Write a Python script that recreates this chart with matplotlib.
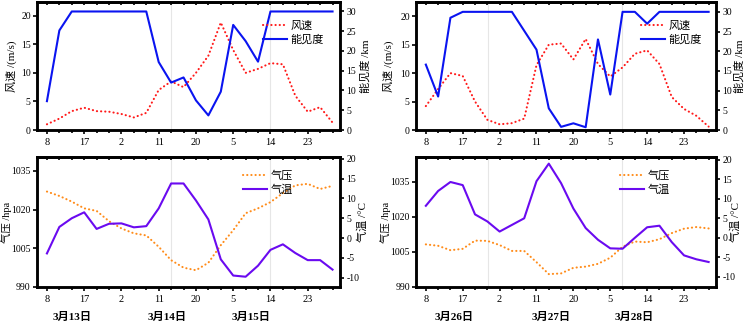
import numpy as np
import matplotlib.pyplot as plt

plt.rcParams['font.family'] = ['Liberation Serif', 'Noto Sans CJK SC']
plt.rcParams['axes.unicode_minus'] = False

# %% data (3-hourly, 8 h on day 1 to 5 h on day 4)
hours = np.arange(24)
tick_idx = [0, 3, 6, 9, 12, 15, 18, 21]
tick_labels = ['8', '17', '2', '11', '20', '5', '14', '23']

# case A: 13-15 March
wind_a = [1.0, 2.0, 3.3, 3.9, 3.3, 3.2, 2.8, 2.2, 3.0, 7.0, 8.5, 7.5,
          10.0, 13.0, 18.8, 14.0, 10.0, 10.7, 11.7, 11.5, 6.0, 3.2, 4.0, 1.3]
vis_a = [7.3, 25.2, 30, 30, 30, 30, 30, 30, 30, 17.2, 12.0, 13.3,
         7.5, 3.7, 9.7, 26.6, 22.5, 17.3, 30, 30, 30, 30, 30, 30]
pres_a = [1027.0, 1025.3, 1023.1, 1020.5, 1019.5, 1015.5, 1012.7, 1010.8, 1010.0, 1005.6, 1000.4, 997.5,
          996.5, 999.4, 1006.2, 1012.0, 1018.6, 1020.5, 1022.9, 1026.4, 1029.4, 1030.0, 1028.0, 1029.2]
temp_a = [-3.9, 2.8, 5.0, 6.5, 2.3, 3.6, 3.7, 2.7, 3.0, 7.5, 13.8, 13.8,
          9.5, 4.7, -5.4, -9.5, -9.8, -7.0, -3.0, -1.6, -3.8, -5.6, -5.6, -8.0]
dates_a = ['3月13日', '3月14日', '3月15日']

# case B: 26-28 March
wind_b = [4.2, 7.2, 10.0, 9.5, 5.0, 1.8, 1.0, 1.2, 2.0, 11.4, 15.0, 15.2,
          12.4, 16.0, 11.6, 9.4, 11.0, 13.4, 14.0, 11.6, 5.8, 3.7, 2.5, 0.6]
vis_b = [16.6, 8.5, 28.5, 30, 30, 30, 30, 30, 25.2, 20.4, 5.5, 0.8,
         1.7, 0.7, 23.0, 9.0, 30, 30, 27, 30, 30, 30, 30, 30]
pres_b = [1008.2, 1007.6, 1005.7, 1006.3, 1009.8, 1009.7, 1007.9, 1005.4, 1005.4, 1000.6, 995.5, 995.8,
          998.2, 998.7, 999.9, 1002.5, 1007.2, 1009.4, 1009.1, 1010.4, 1013.0, 1014.9, 1015.6, 1015.0]
temp_b = [8.2, 12.0, 14.3, 13.5, 6.0, 4.2, 1.6, 3.3, 5.0, 14.5, 19.0, 14.0,
          7.5, 2.5, -0.5, -2.7, -2.8, 0.0, 2.7, 3.1, -1.1, -4.5, -5.5, -6.2]
dates_b = ['3月26日', '3月27日', '3月28日']

# %% figure settings
W, H = 746, 325
fig = plt.figure(figsize=(W / 100, H / 100), dpi=100)

RED, BLUE = '#ff1a1a', '#0a14f0'
ORANGE, PURPLE = '#ff8c1a', '#6a0af0'
SPW = 1.8
FS = 7
DOTS = (0, (0.1, 1.9))


def rect_px(x0, x1, y0, y1):
    # pixel box (from top-left) -> figure fraction
    return [x0 / W, 1 - y1 / H, (x1 - x0) / W, (y1 - y0) / H]


def style_x(ax, vlines):
    ax.set_xlim(-0.8, 23.6)
    ax.set_xticks(tick_idx)
    ax.set_xticklabels(tick_labels, fontsize=7.5)
    ax.set_xticks(hours, minor=True)
    ax.tick_params(axis='x', which='major', direction='out', length=3, width=1.2, pad=3)
    ax.tick_params(axis='x', which='minor', direction='out', length=2, width=1.2)
    top = ax.secondary_xaxis('top')
    top.set_xticks(hours)
    top.tick_params(direction='in', length=2, width=1.2, labeltop=False)
    top.spines['top'].set_linewidth(SPW)
    for v in vlines:
        ax.axvline(v, color='#e6e6e6', lw=0.8, zorder=0)


def style_y(ax, lim, ticks, label, xlab, lfs=8):
    ax.set_ylim(lim)
    ax.set_yticks(ticks)
    ax.tick_params(axis='y', direction='out', length=3, width=1.2, labelsize=FS, pad=1.5)
    ax.set_ylabel(label, fontsize=lfs, rotation=90, va='center', ha='center')
    ax.yaxis.set_label_coords(xlab, 0.5)
    for s in ax.spines.values():
        s.set_linewidth(SPW)


def add_legend(ax, ax2, x, y):
    h1, l1 = ax.get_legend_handles_labels()
    h2, l2 = ax2.get_legend_handles_labels()
    ax2.legend(h1 + h2, l1 + l2, loc='upper left', bbox_to_anchor=(x, y),
               frameon=False, fontsize=8, handlelength=2.2, handletextpad=0.3,
               labelspacing=0.3, borderpad=0, borderaxespad=0)


def wind_panel(rect, wind, vis, vlines, ylim_w, ylim_v, leg_x, lab_x):
    ax = fig.add_axes(rect)
    ax.plot(hours, wind, color=RED, lw=1.5, ls=DOTS, dash_capstyle='round', label='风速')
    style_x(ax, vlines)
    style_y(ax, ylim_w, [0, 5, 10, 15, 20], '风速 /(m/s)', lab_x[0])
    ax2 = ax.twinx()
    ax2.plot(hours, vis, color=BLUE, lw=1.5, label='能见度')
    style_y(ax2, ylim_v, [0, 5, 10, 15, 20, 25, 30], '能见度 /km', lab_x[1])
    add_legend(ax, ax2, leg_x, 0.855)
    return ax


def pres_panel(rect, pres, temp, vlines, ylim_p, ylim_t, leg_x, lab_x, dates, date_x):
    ax = fig.add_axes(rect)
    ax.plot(hours, pres, color=ORANGE, lw=1.5, ls=DOTS, dash_capstyle='round', label='气压')
    style_x(ax, vlines)
    style_y(ax, ylim_p, [990, 1005, 1020, 1035], '气压 /hpa', lab_x[0], lfs=7.5)
    ax2 = ax.twinx()
    ax2.plot(hours, temp, color=PURPLE, lw=1.5, label='气温')
    style_y(ax2, ylim_t, [-10, -5, 0, 5, 10, 15, 20], '气温 /°C', lab_x[1])
    add_legend(ax, ax2, leg_x, 0.90)
    for d, xd in zip(dates, date_x):
        ax.text(xd, -0.23, d, transform=ax.get_xaxis_transform(), ha='center', va='center',
                fontsize=8, fontweight='bold')
    return ax


wind_panel(rect_px(37, 340, 2, 130), wind_a, vis_a, [10, 18], (0, 22.4), (0, 32.4),
           0.746, (-0.083, 1.083))
wind_panel(rect_px(416, 716, 2, 130), wind_b, vis_b, [5.04, 15.96], (0, 22.5), (0, 32.5),
           0.75, (-0.093, 1.080))
pres_panel(rect_px(37, 340, 157, 287), pres_a, temp_a, [10, 17.95], (990, 1040.4), (-12.4, 20.5),
           0.68, (-0.099, 1.073), dates_a, [2.0, 9.7, 16.45])
pres_panel(rect_px(416, 716, 157, 287), pres_b, temp_b, [5.04, 15.96], (990, 1045.5), (-12.6, 20.7),
           0.68, (-0.100, 1.067), dates_b, [2.26, 10.16, 16.98])

fig.savefig('out.png', dpi=100)
